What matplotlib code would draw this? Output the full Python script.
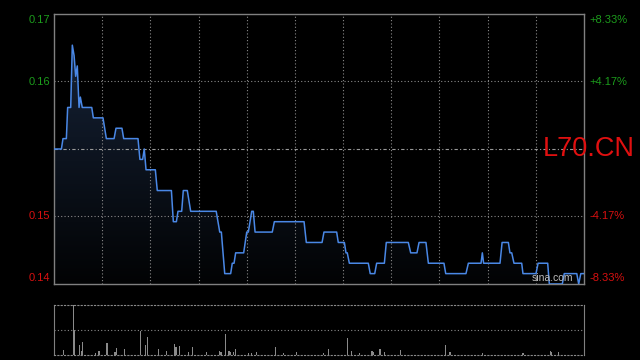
import numpy as np
import matplotlib
matplotlib.use('Agg')
import matplotlib.pyplot as plt
from matplotlib.colors import LinearSegmentedColormap

plt.rcParams['font.family'] = ['Liberation Sans', 'DejaVu Sans']

# intraday price, vertices of the minute line (minute from open, price)
minutes = [0, 4.6, 5.6, 7.7, 8.5, 10.4, 11.4, 12.5, 13.5, 14.5, 15.6, 16.4, 17.6, 23.5,
           24.5, 30.5, 32.6, 37.4, 38.6, 42.3, 43.4, 52.3, 53.5, 55.2, 56.2, 57.3, 63.1,
           64.3, 73.1, 74.3, 76.2, 77.2, 79.5, 80.5, 83, 85.1, 101, 103.2, 104.2, 106.3,
           110, 111, 112.1, 113.1, 118.1, 120, 121, 123.1, 124.1, 125.2, 135.9, 137.2,
           155.7, 157.1, 166.9, 168.1, 176, 177, 180.8, 181.8, 182.6, 183.9, 195.7, 196.9,
           199.7, 200.9, 205.7, 206.9, 220.6, 222.1, 226, 227.3, 231.6, 233.1, 242.8,
           243.9, 256.5, 258, 265.9, 266.7, 267.5, 277.7, 279, 282.9, 283.9, 285, 286.4,
           291.2, 292, 300.1, 301.4, 307.4, 308.4, 316.5, 317.7, 325.5, 326.7, 328, 330]
prices = [0.156, 0.156, 0.157, 0.157, 0.160, 0.160, 0.166, 0.165, 0.163, 0.164, 0.160, 0.161,
          0.160, 0.160, 0.159, 0.159, 0.157, 0.157, 0.158, 0.158, 0.157, 0.157, 0.155, 0.155,
          0.156, 0.154, 0.154, 0.152, 0.152, 0.149, 0.149, 0.150, 0.150, 0.152, 0.152, 0.150,
          0.150, 0.148, 0.148, 0.144, 0.144, 0.145, 0.145, 0.146, 0.146, 0.148, 0.148, 0.150,
          0.150, 0.148, 0.148, 0.149, 0.149, 0.147, 0.147, 0.148, 0.148, 0.147, 0.147, 0.146,
          0.146, 0.145, 0.145, 0.144, 0.144, 0.145, 0.145, 0.147, 0.147, 0.146, 0.146, 0.147,
          0.147, 0.145, 0.145, 0.144, 0.144, 0.145, 0.145, 0.146, 0.145, 0.145, 0.147, 0.147,
          0.146, 0.146, 0.145, 0.145, 0.144, 0.144, 0.145, 0.145, 0.143, 0.143, 0.144, 0.144,
          0.143, 0.144, 0.144]

# volume bars (minute, relative volume)
vol_minutes = [6, 12, 13, 16, 17, 18, 26, 28, 33, 38, 39, 44, 54, 57, 58, 65, 70, 75, 76,
               78, 84, 86, 95, 103, 104, 107, 109, 110, 112, 113, 121, 123, 126, 138, 143,
               151, 168, 171, 183, 185, 190, 198, 199, 203, 206, 216, 244, 246, 247, 267,
               292, 309, 310, 314]
vol_values = [15, 150, 75, 30, 12, 39, 5, 12, 36, 9, 21, 18, 72, 30, 54, 18, 12, 33, 24,
              27, 9, 24, 9, 12, 9, 63, 12, 9, 9, 18, 6, 6, 9, 24, 6,
              9, 6, 18, 51, 12, 6, 12, 9, 18, 9, 15, 30, 9, 9, 6,
              6, 12, 9, 9]

prev_close = 0.156
left_labels = ['0.17', '0.16', '0.15', '0.14']
right_labels = ['+8.33%', '+4.17%', '-4.17%', '-8.33%']
symbol = 'L70.CN'

grid_c = '#8a8a8a'
green = '#1c9c1c'
red = '#d81010'

fig = plt.figure(figsize=(6.4, 3.6), dpi=100, facecolor='black')
ax = fig.add_axes([54 / 640, 76 / 360, 530 / 640, 270 / 360], facecolor='black')
axv = fig.add_axes([54 / 640, 5 / 360, 530 / 640, 50 / 360], facecolor='black')

ymin, ymax = prev_close * (1 - 1 / 12), prev_close * (1 + 1 / 12)
ax.set_xlim(0, 330)
ax.set_ylim(ymin, ymax)

# gradient fill under the line
cmap = LinearSegmentedColormap.from_list('fill', ['#020304', '#18263d'])
grad = np.linspace(0, 1, 256).reshape(-1, 1)
im = ax.imshow(grad, cmap=cmap, origin='lower', aspect='auto',
               extent=[0, 330, ymin, ymax], zorder=1)
poly = ax.fill_between(minutes, prices, ymin, color='none', lw=0)
im.set_clip_path(poly.get_paths()[0], transform=ax.transData)

ax.plot(minutes, prices, color='#4a88e6', lw=1.1, zorder=3)

# grid
for m in range(30, 330, 30):
    ax.axvline(m, color=grid_c, lw=0.8, ls=(0, (1, 2)), zorder=2)
for f in (1 / 24, -1 / 24):
    ax.axhline(prev_close * (1 + f), color=grid_c, lw=0.8, ls=(0, (1, 2)), zorder=2)
ax.axhline(prev_close, color='#9a9a9a', lw=0.8, ls=(0, (3, 2, 1, 2)), zorder=2)

ax.set_xticks([])
ax.set_yticks([])
for s in ax.spines.values():
    s.set_color('#808080')
    s.set_linewidth(1)

ypos = [0.978, 0.748, 0.252, 0.022]
for i in range(4):
    c = green if i < 2 else red
    ax.text(-0.008, ypos[i], left_labels[i], transform=ax.transAxes, ha='right',
            va='center', color=c, fontsize=8)
    ax.text(1.011, ypos[i], right_labels[i], transform=ax.transAxes, ha='left',
            va='center', color=c, fontsize=8)

ax.text(0.922, 0.5, symbol, transform=ax.transAxes, ha='left', va='center',
        color='#e01010', fontsize=19.5, clip_on=False, zorder=5)
ax.text(0.98, 0.022, 'sina.com', transform=ax.transAxes, ha='right', va='center',
        color='#bdbdbd', fontsize=7.5, zorder=5)

# volume panel
axv.set_xlim(0, 330)
axv.set_ylim(0, 150)
axv.bar(vol_minutes, vol_values, width=0.7, color='#8a8a8a', lw=0)
axv.axhline(75, color=grid_c, lw=0.8, ls=(0, (1, 2)))
axv.set_xticks([])
axv.set_yticks([])
for k in ('left', 'right'):
    axv.spines[k].set_color('#808080')
for k in ('top', 'bottom'):
    axv.spines[k].set_color(grid_c)
    axv.spines[k].set_linestyle((0, (1, 2)))
    axv.spines[k].set_linewidth(0.8)

fig.savefig('out.png', dpi=100, facecolor='black')
